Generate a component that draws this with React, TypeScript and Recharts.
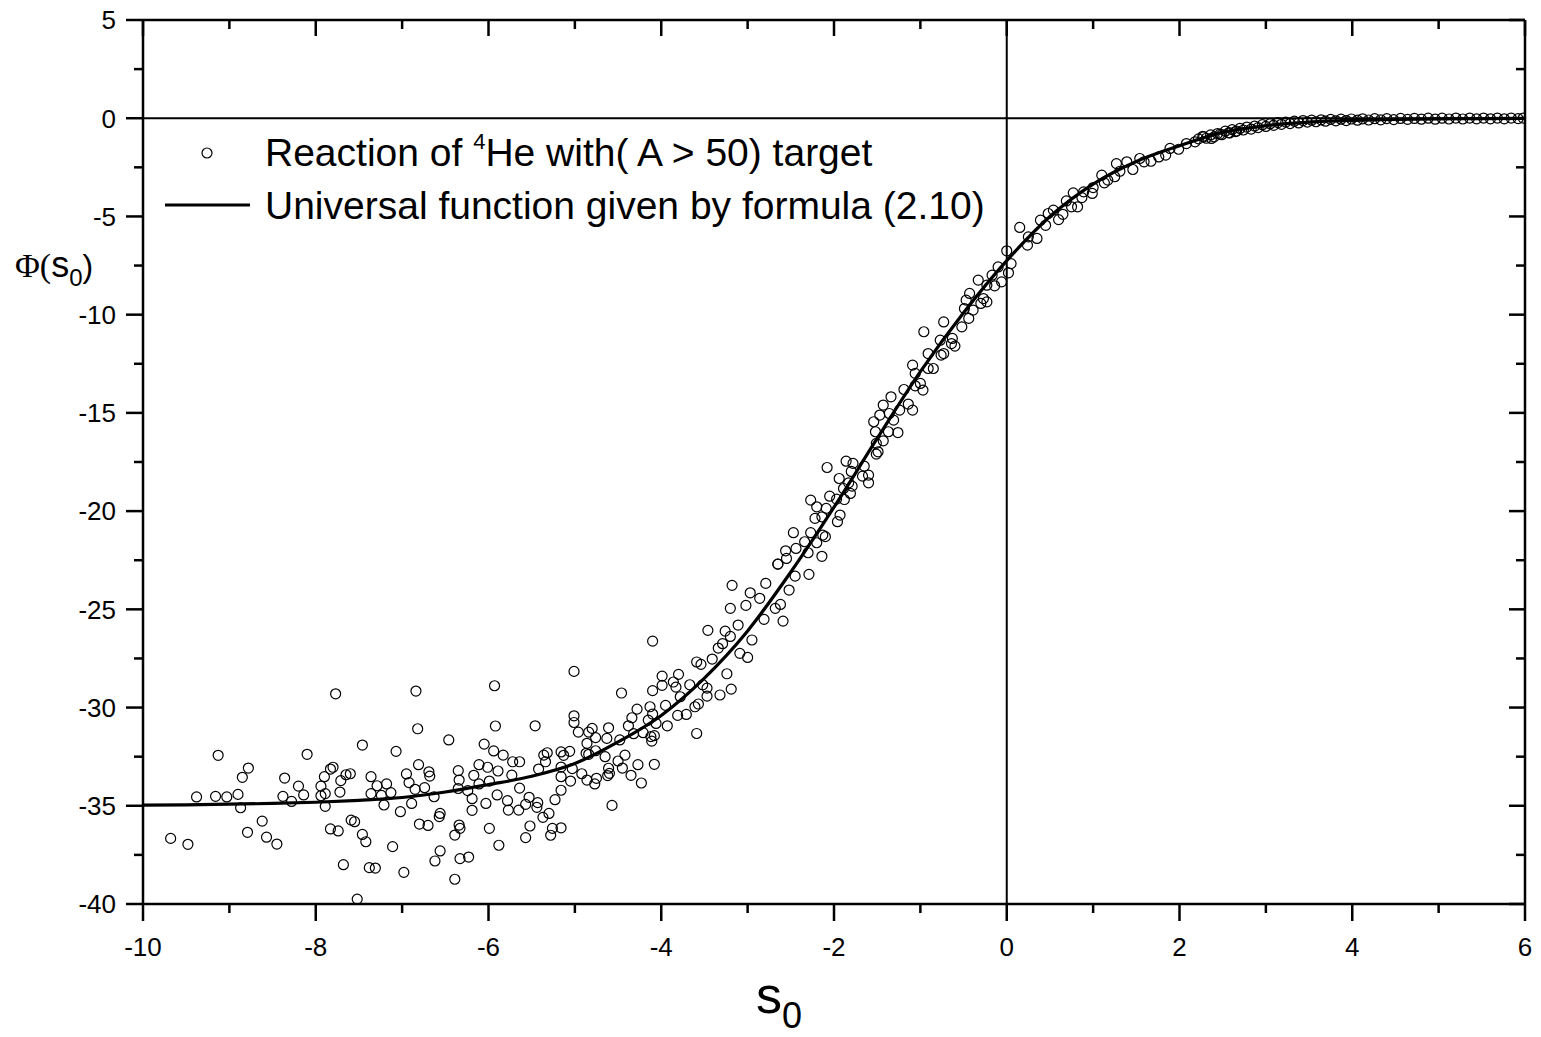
import { ComposedChart, Line, ReferenceLine, Scatter, XAxis, YAxis } from "recharts";

const tailPoints = [
  [-9.68, -36.66], [-9.48, -36.96], [-9.38, -34.55], [-9.16, -34.52], [-9.03, -34.55],
  [-8.9, -34.42], [-9.13, -32.43], [-8.87, -35.1], [-8.85, -33.55], [-8.78, -33.08],
  [-8.79, -36.35], [-8.62, -35.78], [-8.57, -36.6], [-8.45, -36.95], [-8.36, -33.59],
  [-8.38, -34.52], [-8.28, -34.78], [-8.2, -34.0], [-8.14, -34.45], [-8.1, -32.38],
  [-7.77, -29.3], [-7.94, -34.0], [-7.9, -33.52], [-7.94, -34.49], [-7.89, -34.38],
  [-7.89, -35.03], [-7.83, -33.13], [-7.8, -33.04], [-7.71, -33.72], [-7.72, -34.3],
  [-7.65, -33.42], [-7.6, -33.37], [-7.83, -36.18], [-7.74, -36.28], [-7.68, -38.0],
  [-7.52, -39.75], [-7.59, -35.73], [-7.55, -35.81], [-7.46, -36.46], [-7.42, -36.83],
  [-7.46, -31.91], [-7.38, -38.15], [-7.31, -38.17], [-7.36, -33.52], [-7.36, -34.38],
  [-7.29, -33.98], [-7.24, -34.47], [-7.21, -34.96], [-7.18, -33.89], [-7.13, -34.33],
  [-7.11, -37.08], [-7.07, -32.23], [-7.02, -35.3], [-6.98, -38.39], [-6.95, -33.38],
  [-6.92, -33.82], [-6.89, -34.88], [-6.84, -29.16], [-6.82, -31.08], [-6.81, -32.91],
  [-6.85, -34.16], [-6.74, -34.08], [-6.8, -35.93], [-6.7, -36.0], [-6.69, -33.27],
  [-6.68, -33.49], [-6.63, -34.54], [-6.62, -37.81], [-6.56, -35.39], [-6.57, -35.55],
  [-6.56, -37.3], [-6.46, -31.65], [-6.39, -36.49], [-6.39, -38.74], [-6.34, -35.98],
  [-6.33, -36.15], [-6.33, -37.69], [-6.23, -37.61], [-6.35, -33.21], [-6.34, -33.69],
  [-6.35, -34.12], [-6.24, -34.23], [-6.19, -34.64], [-6.19, -35.23], [-6.17, -33.45],
  [-6.11, -32.91], [-6.11, -33.89], [-6.05, -31.86], [-6.01, -33.04], [-5.99, -33.74],
  [-6.03, -34.88], [-5.99, -36.15], [-5.94, -32.21], [-5.93, -28.89], [-5.92, -30.94],
  [-5.9, -34.45], [-5.89, -33.23], [-5.88, -37.01],
];

const risePoints = [
  [-5.83, -32.42], [-5.72, -32.76], [-5.64, -32.76], [-5.73, -33.44], [-5.64, -34.1],
  [-5.78, -34.74], [-5.77, -35.22], [-5.65, -35.22], [-5.57, -34.93], [-5.53, -34.57],
  [-5.43, -34.84], [-5.44, -35.08], [-5.37, -35.59], [-5.3, -35.39], [-5.52, -36.03],
  [-5.57, -36.62], [-5.28, -36.5], [-5.16, -36.12], [-5.26, -36.15], [-5.23, -34.69],
  [-5.16, -34.21], [-5.05, -33.74], [-5.42, -33.13], [-5.34, -32.76], [-5.32, -32.3],
  [-5.36, -32.42], [-5.16, -32.26], [-5.13, -32.43], [-5.06, -32.23], [-5.16, -33.03],
  [-5.03, -33.11], [-5.16, -33.52], [-4.92, -33.37], [-4.86, -33.69], [-4.77, -33.89],
  [-4.75, -33.6], [-5.46, -30.93], [-5.01, -28.16], [-5.01, -30.42], [-5.01, -30.76],
  [-4.96, -31.25], [-4.84, -31.25], [-4.8, -31.06], [-4.76, -31.53], [-4.86, -31.82],
  [-4.87, -32.33], [-4.84, -32.38], [-4.76, -32.2], [-4.63, -31.57], [-4.61, -31.03],
  [-4.65, -32.5], [-4.61, -33.09], [-4.6, -33.35], [-4.62, -33.46], [-4.5, -32.72],
  [-4.48, -31.65], [-4.42, -32.42], [-4.45, -33.08], [-4.35, -33.45], [-4.27, -32.91],
  [-4.23, -33.84], [-4.08, -32.89], [-4.57, -34.98], [-4.46, -29.26], [-4.1, -26.62],
  [-4.38, -30.93], [-4.34, -30.52], [-4.28, -30.08], [-4.32, -31.33], [-4.21, -31.28],
  [-4.15, -30.64], [-4.13, -29.96], [-4.1, -30.33], [-4.06, -30.81], [-4.11, -31.71],
  [-4.12, -31.48], [-4.08, -31.43], [-4.1, -29.14], [-3.99, -28.4], [-3.99, -28.87],
  [-3.95, -29.89], [-3.93, -30.93], [-3.86, -28.7], [-3.8, -28.31], [-3.83, -28.96],
  [-3.78, -29.45], [-3.81, -30.4], [-3.71, -30.35], [-3.67, -28.84], [-3.59, -31.32],
  [-3.61, -29.96], [-3.57, -29.82], [-3.59, -27.68], [-3.54, -27.8], [-3.52, -28.84],
  [-3.47, -29.01], [-3.47, -29.42], [-3.46, -26.07], [-3.41, -27.53], [-3.32, -29.36],
  [-3.34, -26.97], [-3.29, -26.75], [-3.24, -28.28], [-3.19, -29.06], [-3.26, -26.11],
  [-3.2, -26.38], [-3.11, -25.8], [-3.09, -27.24], [-3.0, -27.45], [-2.95, -26.56],
  [-3.18, -23.78], [-3.2, -24.95], [-3.02, -24.8], [-2.97, -24.16], [-2.86, -24.44],
  [-2.79, -23.68], [-2.81, -25.51], [-2.68, -24.95], [-2.62, -24.75], [-2.59, -25.6],
  [-2.52, -24.02], [-2.45, -23.31], [-2.29, -23.22], [-2.65, -22.7],
];

const steepPoints = [
  [-1.43, -14.6], [-1.47, -15.11], [-1.54, -15.45], [-1.36, -15.03], [-1.31, -15.37],
  [-1.26, -16.0], [-1.37, -15.96], [-1.52, -15.96], [-1.43, -16.42], [-1.51, -16.55],
  [-1.49, -16.98], [-1.51, -17.1], [-2.08, -17.78], [-1.86, -17.46], [-1.78, -17.57],
  [-1.65, -17.71], [-1.67, -18.22], [-1.6, -18.17], [-1.6, -18.56], [-1.8, -17.98],
  [-1.94, -18.34], [-1.83, -18.56], [-1.79, -18.73], [-1.89, -18.85], [-1.81, -19.1],
  [-2.05, -19.24], [-1.97, -19.39], [-1.88, -19.41], [-2.27, -19.44], [-2.2, -19.78],
  [-2.09, -19.86], [-1.93, -20.2], [-1.96, -20.54], [-2.22, -20.37], [-2.14, -20.29],
  [-2.27, -21.1], [-2.13, -21.22], [-2.1, -21.3], [-2.2, -21.61], [-2.34, -21.56],
  [-2.47, -21.1], [-2.44, -21.9], [-2.56, -22.02], [-2.3, -22.12], [-2.14, -22.3],
  [-2.55, -22.41], [-2.65, -22.7], [-0.0, -6.75], [0.05, -7.4], [0.02, -7.87],
  [-0.06, -8.33], [-0.1, -7.57], [-0.14, -8.53], [-0.17, -7.99], [-0.23, -8.5],
  [-0.33, -8.24], [-0.27, -9.18], [-0.23, -9.35], [-0.3, -9.43], [-0.43, -8.92],
  [-0.47, -9.26], [-0.39, -9.77], [-0.44, -10.19], [-0.49, -9.69], [-0.52, -10.62],
  [-0.73, -10.37], [-0.96, -10.87], [-0.77, -11.3], [-0.63, -11.21], [-0.6, -11.6],
  [-0.64, -11.47], [-0.73, -11.98], [-0.91, -11.98], [-0.76, -12.06], [-1.09, -12.57],
  [-0.91, -12.74], [-0.85, -12.74], [-1.06, -12.99], [-1.0, -13.5], [-0.97, -13.84],
  [-1.06, -13.62], [-1.19, -13.81], [-1.14, -14.55], [-1.09, -14.86], [-1.24, -14.86],
  [-1.34, -14.18],
];

const kneePoints = [
  [0.15, -5.56], [0.25, -6.04], [0.24, -6.46], [0.35, -6.12], [0.39, -5.19],
  [0.45, -5.45], [0.48, -4.85], [0.54, -4.68], [0.6, -5.16], [0.65, -4.89],
  [0.69, -4.21], [0.75, -4.51], [0.77, -3.8], [0.82, -4.51], [0.87, -4.04],
  [0.89, -3.75], [0.99, -3.83], [1.0, -3.53], [1.1, -2.9], [1.13, -3.29],
  [1.17, -3.15], [1.25, -2.98], [1.27, -2.31], [1.31, -2.7], [1.39, -2.22],
  [1.46, -2.61], [1.54, -2.05], [1.59, -2.22], [1.67, -2.19], [1.76, -1.97],
  [1.84, -1.88], [1.89, -1.54], [1.99, -1.58], [2.08, -1.29], [2.18, -1.2],
  [2.28, -0.95], [2.37, -1.03], [2.47, -0.81], [2.58, -0.75], [2.66, -0.65],
];

const plateauPoints = [
  [2.22, -1.05], [2.27, -0.92], [2.31, -1.02], [2.36, -0.85], [2.4, -0.95], [2.44, -0.78],
  [2.49, -0.84], [2.53, -0.66], [2.57, -0.74], [2.61, -0.58], [2.65, -0.68], [2.7, -0.52],
  [2.74, -0.6], [2.78, -0.45], [2.83, -0.55], [2.87, -0.4], [2.91, -0.48], [2.96, -0.33],
  [3.0, -0.42], [3.05, -0.28], [3.09, -0.36], [3.14, -0.22], [3.18, -0.31], [3.23, -0.2],
  [3.28, -0.27], [3.33, -0.15], [3.38, -0.24], [3.43, -0.12], [3.48, -0.2], [3.53, -0.1],
  [3.58, -0.18], [3.64, -0.08], [3.69, -0.15], [3.75, -0.06], [3.81, -0.13], [3.87, -0.05],
  [3.93, -0.12], [3.99, -0.04], [4.06, -0.1], [4.12, -0.03], [4.19, -0.09], [4.26, -0.02],
  [4.33, -0.08], [4.4, -0.02], [4.48, -0.07], [4.56, -0.01], [4.64, -0.06], [4.72, -0.01],
  [4.8, -0.05], [4.88, 0.0], [4.96, -0.05], [5.04, 0.0], [5.12, -0.04], [5.2, 0.01],
  [5.28, -0.04], [5.36, 0.01], [5.44, -0.03], [5.52, 0.01], [5.6, -0.03], [5.68, 0.01],
  [5.76, -0.03], [5.84, 0.01], [5.92, -0.02], [5.98, 0.01],
];

// universal function (2.10)
const fitX = [-10, -9.5, -9, -8.5, -8, -7.5, -7, -6.5, -6, -5.5, -5, -4.5, -4, -3.5, -3, -2.5,
  -2, -1.5, -1, -0.5, 0, 0.5, 1, 1.5, 2, 2.5, 3, 3.5, 4, 4.5, 5, 5.5, 6];
const fitY = [-34.97, -34.95, -34.92, -34.88, -34.82, -34.72, -34.58, -34.3, -33.92, -33.5,
  -32.85, -31.75, -30.4, -28.5, -26.1, -23.1, -19.8, -16.3, -12.9, -9.9, -7.25, -5.0, -3.35,
  -2.2, -1.4, -0.72, -0.38, -0.2, -0.11, -0.06, -0.03, -0.02, -0.01];

const xTicks = [-10, -9, -8, -7, -6, -5, -4, -3, -2, -1, 0, 1, 2, 3, 4, 5, 6];
const yTicks = [-40, -37.5, -35, -32.5, -30, -27.5, -25, -22.5, -20, -17.5, -15, -12.5, -10,
  -7.5, -5, -2.5, 0, 2.5, 5];

const observed = [...tailPoints, ...risePoints, ...steepPoints, ...kneePoints, ...plateauPoints]
  .map(([x, y]) => ({ x, y }));
const fitData = fitX.map((x, i) => ({ x, y: fitY[i] }));

const FONT = "'Liberation Sans', Arial, sans-serif";
const AXIS_LINE = { stroke: "#000", strokeWidth: 2.5 };

function BottomTick({ x, y, payload }: any) {
  const major = payload.value % 2 === 0;
  return (
    <g>
      <line x1={x} x2={x} y1={y} y2={y + (major ? 17 : 9)} stroke="#000" strokeWidth={2.5} />
      {major && (
        <text x={x} y={y + 52} textAnchor="middle" fontSize={26} fontFamily={FONT} fill="#000">
          {payload.value}
        </text>
      )}
    </g>
  );
}

function LeftTick({ x, y, payload }: any) {
  const major = payload.value % 5 === 0;
  return (
    <g>
      <line x1={x - (major ? 17 : 9)} x2={x} y1={y} y2={y} stroke="#000" strokeWidth={2.5} />
      {major && (
        <text x={x - 27} y={y} dy="0.36em" textAnchor="end" fontSize={26} fontFamily={FONT} fill="#000">
          {payload.value}
        </text>
      )}
    </g>
  );
}

function TopTick({ x, y, payload }: any) {
  const major = payload.value % 2 === 0;
  return <line x1={x} x2={x} y1={y} y2={y + (major ? 16 : 9)} stroke="#000" strokeWidth={2.5} />;
}

function RightTick({ x, y, payload }: any) {
  const major = payload.value % 5 === 0;
  return <line x1={x - (major ? 16 : 9)} x2={x} y1={y} y2={y} stroke="#000" strokeWidth={2.5} />;
}

const Ring = (props: any) => (
  <circle cx={props.cx} cy={props.cy} r={5} fill="none" stroke="#000" strokeWidth={1.2} />
);

export default function App() {
  return (
    <div style={{ position: "absolute", left: 0, top: 0, width: 1541, height: 1037, background: "#fff" }}>
      <ComposedChart
        width={1541}
        height={1037}
        margin={{ top: 19, right: 15, bottom: 73, left: 83 }}
      >
        <XAxis
          dataKey="x"
          type="number"
          domain={[-10, 6]}
          ticks={xTicks}
          interval={0}
          height={60}
          tickSize={0}
          tickMargin={0}
          tickLine={false}
          tick={<BottomTick />}
          axisLine={AXIS_LINE}
          allowDataOverflow
        />
        <XAxis
          xAxisId="top"
          orientation="top"
          dataKey="x"
          type="number"
          domain={[-10, 6]}
          ticks={xTicks}
          interval={0}
          height={1}
          tickSize={0}
          tickMargin={0}
          tickLine={false}
          tick={<TopTick />}
          axisLine={AXIS_LINE}
          allowDataOverflow
        />
        <YAxis
          dataKey="y"
          type="number"
          domain={[-40, 5]}
          ticks={yTicks}
          interval={0}
          width={60}
          tickSize={0}
          tickMargin={0}
          tickLine={false}
          tick={<LeftTick />}
          axisLine={AXIS_LINE}
          allowDataOverflow
        />
        <YAxis
          yAxisId="right"
          orientation="right"
          dataKey="y"
          type="number"
          domain={[-40, 5]}
          ticks={yTicks}
          interval={0}
          width={1}
          tickSize={0}
          tickMargin={0}
          tickLine={false}
          tick={<RightTick />}
          axisLine={AXIS_LINE}
          allowDataOverflow
        />
        <ReferenceLine y={0} stroke="#000" strokeWidth={2} />
        <ReferenceLine x={0} stroke="#000" strokeWidth={2} />
        {/* invisible copy of the fit, only so the mirrored frame axes get drawn */}
        <Line
          xAxisId="top"
          yAxisId="right"
          data={fitData}
          dataKey="y"
          stroke="none"
          dot={false}
          activeDot={false}
          legendType="none"
          isAnimationActive={false}
        />
        <Scatter data={observed} shape={Ring} isAnimationActive={false} />
        <Line
          data={fitData}
          dataKey="y"
          type="monotone"
          stroke="#000"
          strokeWidth={3.2}
          dot={false}
          activeDot={false}
          isAnimationActive={false}
        />
      </ComposedChart>
      <svg
        width={1541}
        height={1037}
        style={{ position: "absolute", left: 0, top: 0, pointerEvents: "none" }}
      >
        <circle cx={207} cy={153} r={5} fill="none" stroke="#000" strokeWidth={1.2} />
        <text x={265} y={166} fontSize={39} fontFamily={FONT} fill="#000">
          Reaction of <tspan fontSize={22} dy={-17}>4</tspan>
          <tspan dy={17}>He with( A &gt; 50) target</tspan>
        </text>
        <line x1={165} x2={250} y1={205} y2={205} stroke="#000" strokeWidth={3} />
        <text x={265} y={219} fontSize={39} fontFamily={FONT} fill="#000">
          Universal function given by formula (2.10)
        </text>
        <text x={15} y={277} fill="#000">
          <tspan fontFamily="'Liberation Serif', 'Times New Roman', serif" fontSize={34}>Φ(</tspan>
          <tspan fontFamily={FONT} fontSize={36}>s</tspan>
          <tspan fontFamily={FONT} fontSize={24} dy={9}>0</tspan>
          <tspan fontFamily={FONT} fontSize={32} dy={-9}>)</tspan>
        </text>
        <text x={756} y={1013} fill="#000" fontFamily={FONT}>
          <tspan fontSize={52}>s</tspan>
          <tspan fontSize={36} dy={15}>0</tspan>
        </text>
      </svg>
    </div>
  );
}
